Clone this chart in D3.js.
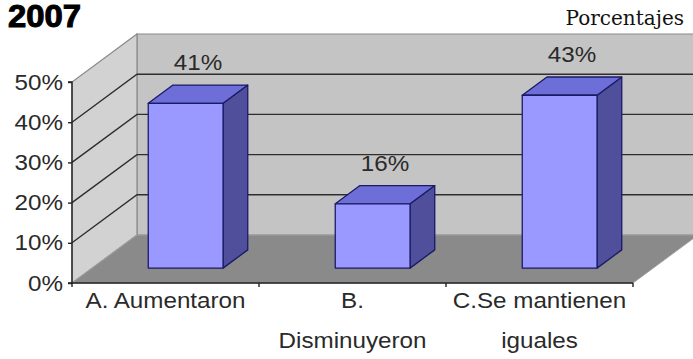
<!DOCTYPE html>
<html>
<head>
<meta charset="utf-8">
<script src="https://cdn.jsdelivr.net/npm/d3@7/dist/d3.min.js"></script>
<style>
  html, body { margin: 0; padding: 0; background: #fff; }
  svg { display: block; }
</style>
</head>
<body>
<svg id="chart" width="693" height="359"></svg>
<script>
// Data
const categories = ["A. Aumentaron", "B. Disminuyeron", "C.Se mantienen iguales"];
const categoryLines = [["A. Aumentaron"], ["B.", "Disminuyeron"], ["C.Se mantienen", "iguales"]];
const values = [41, 16, 43];
const yTicks = [0, 10, 20, 30, 40, 50];
const title = "2007";
const subtitle = "Porcentajes";

const svg = d3.select("#chart");
const FONT = "Liberation Sans, Arial, sans-serif";
const FS = 22, SX = 1.1;   // label font size and horizontal stretch

// 3D frame: front plane origin and depth offset
const x0 = 72, frontW = 561;
const depthX = 65, depthY = 48;
const barDepth0 = 0.31, barDepth1 = 0.69;

const x = d3.scaleBand().domain(categories).range([x0, x0 + frontW])
  .paddingInner(0.6).paddingOuter(0.3);
const xCat = d3.scaleBand().domain(categories).range([x0, x0 + frontW]);
const y = d3.scaleLinear().domain([0, 50]).range([283, 82]);

// project a point at given depth (0 = front, 1 = back)
const P = (px, py, d) => [px + d * depthX, py - d * depthY];
const poly = pts => "M" + pts.map(p => p.join(",")).join("L") + "Z";

const yMin = y(0), yMax = y(50);
const xEnd = x0 + frontW;

// back wall
svg.append("path")
  .attr("d", poly([P(x0, yMin, 1), P(xEnd, yMin, 1), P(xEnd, yMax, 1), P(x0, yMax, 1)]))
  .attr("fill", "#c4c4c4").attr("stroke", "#8a8a8a").attr("stroke-width", 1.2);

// side wall
svg.append("path")
  .attr("d", poly([P(x0, yMin, 0), P(x0, yMin, 1), P(x0, yMax, 1), P(x0, yMax, 0)]))
  .attr("fill", "#d2d2d2").attr("stroke", "#8a8a8a").attr("stroke-width", 1.2);

// floor
svg.append("path")
  .attr("d", poly([P(x0, yMin, 0), P(xEnd, yMin, 0), P(xEnd, yMin, 1), P(x0, yMin, 1)]))
  .attr("fill", "#8a8a8a").attr("stroke", "#a0a0a0").attr("stroke-width", 1);

// gridlines on back wall and side wall
const grid = svg.append("g").attr("fill", "none").attr("stroke", "#2e2e2e").attr("stroke-width", 1.4);
yTicks.filter(t => t > 0 && t < 50).forEach(t => {
  const a = P(x0, y(t), 0), b = P(x0, y(t), 1), c = P(xEnd, y(t), 1);
  grid.append("path").attr("d", "M" + a + "L" + b + "L" + c);
});

// bars
const bars = svg.append("g").attr("stroke", "#1a1a66").attr("stroke-width", 1.3).attr("stroke-linejoin", "round");
categories.forEach((c, i) => {
  const l = x(c), r = x(c) + x.bandwidth();
  const top = y(values[i]), bot = y(0);
  // side face
  bars.append("path").attr("fill", "#4f4f9c")
    .attr("d", poly([P(r, bot, barDepth0), P(r, bot, barDepth1), P(r, top, barDepth1), P(r, top, barDepth0)]));
  // top face
  bars.append("path").attr("fill", "#6e6ed8")
    .attr("d", poly([P(l, top, barDepth0), P(r, top, barDepth0), P(r, top, barDepth1), P(l, top, barDepth1)]));
  // front face
  bars.append("path").attr("fill", "#9999ff")
    .attr("d", poly([P(l, bot, barDepth0), P(r, bot, barDepth0), P(r, top, barDepth0), P(l, top, barDepth0)]));
});

// value labels
const mid = (barDepth0 + barDepth1) / 2;
svg.append("g").selectAll("text").data(categories).join("text")
  .attr("transform", (c, i) => `translate(${x(c) + x.bandwidth() / 2 + mid * depthX},${y(values[i]) - mid * depthY - 24}) scale(${SX},1)`)
  .attr("text-anchor", "middle")
  .attr("font-family", FONT)
  .attr("font-size", FS).attr("fill", "#2a2a2a")
  .text((c, i) => values[i] + "%");

// y axis
const yAxis = svg.append("g").attr("transform", `translate(${x0},0)`)
  .call(d3.axisLeft(y).tickValues(yTicks).tickFormat(d => d + "%").tickSize(4).tickPadding(7));
yAxis.select(".domain").attr("stroke", "#222").attr("stroke-width", 1.4).attr("d", `M-4,${yMax}H0V${yMin}H-4`);
yAxis.selectAll(".tick line").attr("stroke", "#222").attr("stroke-width", 1.4);
yAxis.selectAll(".tick text").attr("font-family", FONT)
  .attr("font-size", FS).attr("fill", "#2a2a2a")
  .attr("x", -9 / SX).attr("transform", `scale(${SX},1)`);

// x axis
const xAxis = svg.append("g").attr("transform", `translate(0,${yMin})`)
  .call(d3.axisBottom(xCat).tickSize(0).tickFormat(""));
xAxis.select(".domain").attr("stroke", "#222").attr("stroke-width", 1.4)
  .attr("d", `M${x0},0H${xEnd}`);
const xt = xAxis.append("g").attr("stroke", "#222").attr("stroke-width", 1.4);
[0, 1, 2, 3].forEach(k => {
  const px = x0 + k * xCat.step();
  xt.append("line").attr("x1", px).attr("x2", px).attr("y1", 0).attr("y2", 4);
});
xAxis.selectAll(".tick").each(function(c, i) {
  const t = d3.select(this).select("text")
    .attr("font-family", FONT)
    .attr("font-size", FS).attr("fill", "#2a2a2a").attr("y", 0).attr("dy", null)
    .attr("transform", `scale(${SX},1)`);
  categoryLines[i].forEach((line, j) => {
    t.append("tspan").attr("x", 0).attr("y", 25 + j * 40).text(line);
  });
});

// titles
svg.append("text").attr("transform", "translate(8,27) scale(1.06,1)")
  .attr("font-family", FONT).attr("font-weight", "bold")
  .attr("font-size", 31).attr("fill", "#000").attr("stroke", "#000").attr("stroke-width", 1)
  .text(title);
svg.append("text").attr("x", 684).attr("y", 25).attr("text-anchor", "end")
  .attr("font-family", "DejaVu Serif, serif")
  .attr("font-size", 20).attr("fill", "#111")
  .text(subtitle);
</script>
</body>
</html>
